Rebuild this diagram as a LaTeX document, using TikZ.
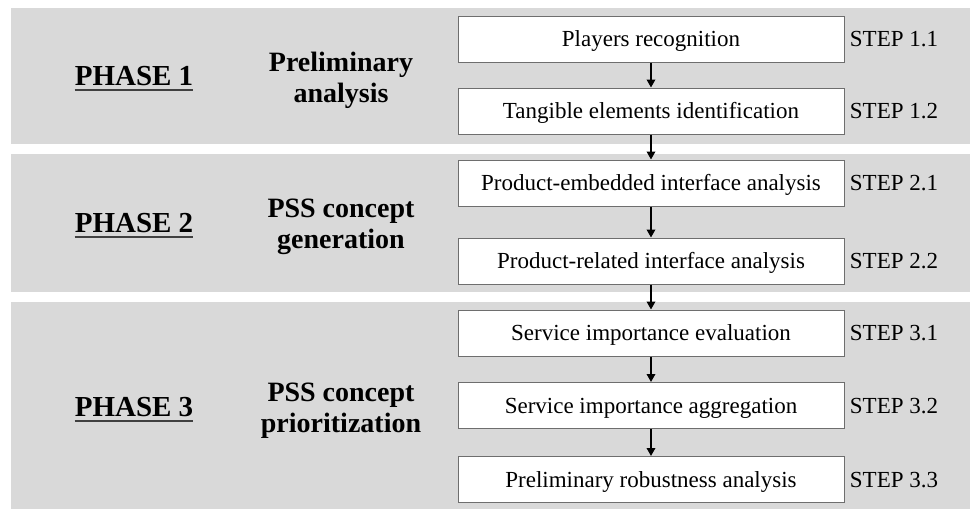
\documentclass[tikz,border=0pt]{standalone}
\usepackage{fontspec}
\setmainfont{Liberation Serif}
\usetikzlibrary{arrows.meta}
\definecolor{bandgray}{HTML}{D9D9D9}
\definecolor{boxline}{HTML}{6E6E6E}
\begin{document}
\begin{tikzpicture}[x=1pt,y=-1pt,
  band/.style={fill=bandgray,draw=none},
  stepbox/.style={draw=boxline,line width=1pt,fill=white,minimum width=386pt,minimum height=46pt,inner sep=0pt,text height=15pt,text depth=0pt,font=\fontsize{23}{26}\selectfont},
  steplabel/.style={font=\fontsize{23}{26}\selectfont,inner sep=0pt,text height=15pt,text depth=0pt},
  phaselabel/.style={font=\fontsize{29}{32}\selectfont\bfseries,inner sep=0pt},
  phasename/.style={font=\fontsize{28}{31}\selectfont\bfseries,align=center,inner sep=0pt},
  flow/.style={line width=1.8pt,-{Triangle[length=8pt,width=8.5pt]}},
  uline/.style={line width=1.8pt,draw=black!75}
]
\useasboundingbox (0,0) rectangle (970,509);
\fill[white] (0,0) rectangle (970,509);
% bands
\path[band] (11,8) rectangle (970,144);
\path[band] (11,154) rectangle (970,292);
\path[band] (11,302) rectangle (970,509);
% phase labels
\node[phaselabel] (p1) at (134,76) {PHASE 1};
\node[phaselabel] (p2) at (134,223) {PHASE 2};
\node[phaselabel] (p3) at (134,407) {PHASE 3};
\foreach \p in {p1,p2,p3}{
  \draw[uline] ([yshift=-4.5pt]\p.base west) -- ([yshift=-4.5pt]\p.base east);
}
\node[phasename] (n1) at (341,80) {Preliminary\\analysis};
\node[phasename] (n2) at (341,227) {PSS concept\\generation};
\node[phasename] (n3) at (341,411) {PSS concept\\prioritization};
% step boxes
\node[stepbox] (s11) at (651,39) {Players recognition};
\node[stepbox] (s12) at (651,111) {Tangible elements identification};
\node[stepbox] (s21) at (651,183) {Product-embedded interface analysis};
\node[stepbox] (s22) at (651,261) {Product-related interface analysis};
\node[stepbox] (s31) at (651,333) {Service importance evaluation};
\node[stepbox] (s32) at (651,405.5) {Service importance aggregation};
\node[stepbox] (s33) at (651,479.5) {Preliminary robustness analysis};
% step labels
\node[steplabel] (l11) at (894,39) {STEP 1.1};
\node[steplabel] (l12) at (894,111) {STEP 1.2};
\node[steplabel] (l21) at (894,183) {STEP 2.1};
\node[steplabel] (l22) at (894,261) {STEP 2.2};
\node[steplabel] (l31) at (894,333) {STEP 3.1};
\node[steplabel] (l32) at (894,405.5) {STEP 3.2};
\node[steplabel] (l33) at (894,479.5) {STEP 3.3};
% arrows
\draw[flow] (s11) -- (s12);
\draw[flow] (s12) -- (s21);
\draw[flow] (s21) -- (s22);
\draw[flow] (s22) -- (s31);
\draw[flow] (s31) -- (s32);
\draw[flow] (s32) -- (s33);
\end{tikzpicture}
\end{document}
